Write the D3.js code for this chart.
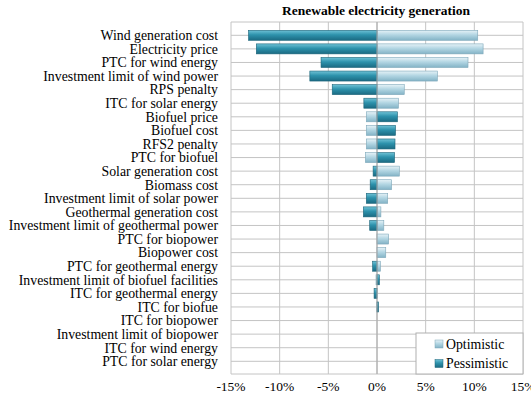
<!DOCTYPE html>
<html>
<head>
  <meta charset="utf-8">
  <title>Renewable electricity generation</title>
  <script src="https://d3js.org/d3.v7.min.js"></script>
  <style>
    body { margin: 0; background: #fff; }
    svg text { font-family: "Liberation Serif", "DejaVu Serif", serif; fill: #000; }
    .grid line { stroke: #c4c4c4; stroke-width: 1; }
  </style>
</head>
<body>
<div id="chart"></div>
<script>
  const categories = [
    "Wind generation cost", "Electricity price", "PTC for wind energy",
    "Investment limit of wind power", "RPS penalty", "ITC for solar energy",
    "Biofuel price", "Biofuel cost", "RFS2 penalty", "PTC for biofuel",
    "Solar generation cost", "Biomass cost", "Investment limit of solar power",
    "Geothermal generation cost", "Investment limit of geothermal power",
    "PTC for biopower", "Biopower cost", "PTC for geothermal energy",
    "Investment limit of biofuel facilities", "ITC for geothermal energy",
    "ITC for biofue", "ITC for biopower", "Investment limit of biopower",
    "ITC for wind energy", "PTC for solar energy"
  ];
  const optimistic = [10.35, 10.9, 9.35, 6.2, 2.8, 2.2, -1.1, -1.1, -1.1, -1.2,
    2.3, 1.5, 1.1, 0.4, 0.7, 1.2, 0.9, 0.35, -0.1, -0.05, 0.1, 0, 0, 0, 0];
  const pessimistic = [-13.2, -12.4, -5.75, -6.9, -4.6, -1.35, 2.1, 1.9, 1.85, 1.8,
    -0.4, -0.7, -1.1, -1.4, -0.75, 0, 0, -0.45, 0.25, -0.3, 0.15, 0, 0, 0, 0];
  const xTicks = [-15, -10, -5, 0, 5, 10, 15];
  const seriesNames = ["Optimistic", "Pessimistic"];

  const width = 531, height = 401;
  const plotL = 231, plotR = 523, plotT = 22, plotB = 374;
  const serif = "'Liberation Serif', 'DejaVu Serif', serif";

  const svg = d3.select("#chart").append("svg")
    .attr("width", width)
    .attr("height", height);

  // gradients for the bevelled bars
  const defs = svg.append("defs");
  const grads = {
    Optimistic: ["#e6f2f7", "#b3d6e3", "#83b3c6"],
    Pessimistic: ["#6fc2d6", "#2d92ac", "#1b6a82"]
  };
  Object.entries(grads).forEach(([name, cols]) => {
    const g = defs.append("linearGradient")
      .attr("id", "g" + name).attr("x1", 0).attr("y1", 0).attr("x2", 0).attr("y2", 1);
    g.append("stop").attr("offset", "0%").attr("stop-color", cols[0]);
    g.append("stop").attr("offset", "45%").attr("stop-color", cols[1]);
    g.append("stop").attr("offset", "100%").attr("stop-color", cols[2]);
  });
  const strokes = { Optimistic: "#7da7b9", Pessimistic: "#1a6378" };

  let x = d3.scaleLinear().domain([-15, 15]).range([plotL, plotR]);
  let y = d3.scalePoint().domain(categories).range([35.3, 361.3]);

  // grid
  const grid = svg.append("g").attr("class", "grid");
  grid.selectAll(".v").data(xTicks).enter().append("line")
    .attr("x1", d => x(d)).attr("x2", d => x(d))
    .attr("y1", plotT).attr("y2", plotB);
  grid.selectAll(".h").data(categories).enter().append("line")
    .attr("x1", plotL).attr("x2", plotR)
    .attr("y1", d => y(d)).attr("y2", d => y(d));
  grid.append("line").attr("x1", plotL).attr("x2", plotR).attr("y1", plotT).attr("y2", plotT);
  grid.append("line").attr("x1", plotL).attr("x2", plotR).attr("y1", plotB).attr("y2", plotB);

  // bars
  const barH = 10;
  const series = [
    { name: "Optimistic", values: optimistic },
    { name: "Pessimistic", values: pessimistic }
  ];
  series.forEach(s => {
    svg.append("g")
      .selectAll("rect")
      .data(categories.map((c, i) => ({ c, v: s.values[i] })).filter(d => d.v !== 0))
      .enter().append("rect")
      .attr("x", d => x(Math.min(0, d.v)))
      .attr("width", d => Math.abs(x(d.v) - x(0)))
      .attr("y", d => y(d.c) - barH / 2)
      .attr("height", barH)
      .attr("fill", `url(#g${s.name})`)
      .attr("stroke", strokes[s.name])
      .attr("stroke-width", 0.6);
  });

  // zero line on top
  svg.append("line")
    .attr("x1", x(0)).attr("x2", x(0)).attr("y1", plotT).attr("y2", plotB)
    .attr("stroke", "#a8a8a8");

  // category labels
  svg.append("g").selectAll("text")
    .data(categories).enter().append("text")
    .attr("x", 218)
    .attr("y", d => y(d))
    .attr("dy", "0.35em")
    .attr("text-anchor", "end")
    .attr("font-family", serif)
    .style("font-size", "13.8px")
    .text(d => d);

  // x tick labels
  svg.append("g").selectAll("text")
    .data(xTicks).enter().append("text")
    .attr("x", d => x(d))
    .attr("y", 391)
    .attr("text-anchor", "middle")
    .attr("font-family", serif)
    .style("font-size", "13.5px")
    .text(d => d + "%");

  // title
  svg.append("text")
    .attr("x", 376).attr("y", 15)
    .attr("text-anchor", "middle")
    .attr("font-family", serif)
    .style("font-size", "13.5px")
    .style("font-weight", "bold")
    .text("Renewable electricity generation");

  // legend
  const lg = svg.append("g");
  lg.append("rect")
    .attr("x", 416).attr("y", 333).attr("width", 107).attr("height", 41)
    .attr("fill", "#fff").attr("stroke", "#b0b0b0");
  seriesNames.forEach((n, i) => {
    const ly = 344 + i * 19.5;
    lg.append("rect")
      .attr("x", 435).attr("y", ly - 4).attr("width", 8).attr("height", 8)
      .attr("fill", `url(#g${n})`).attr("stroke", strokes[n]).attr("stroke-width", 0.5);
    lg.append("text")
      .attr("x", 446).attr("y", ly).attr("dy", "0.35em")
      .attr("font-family", serif)
      .style("font-size", "13.8px")
      .text(n);
  });
</script>
</body>
</html>
